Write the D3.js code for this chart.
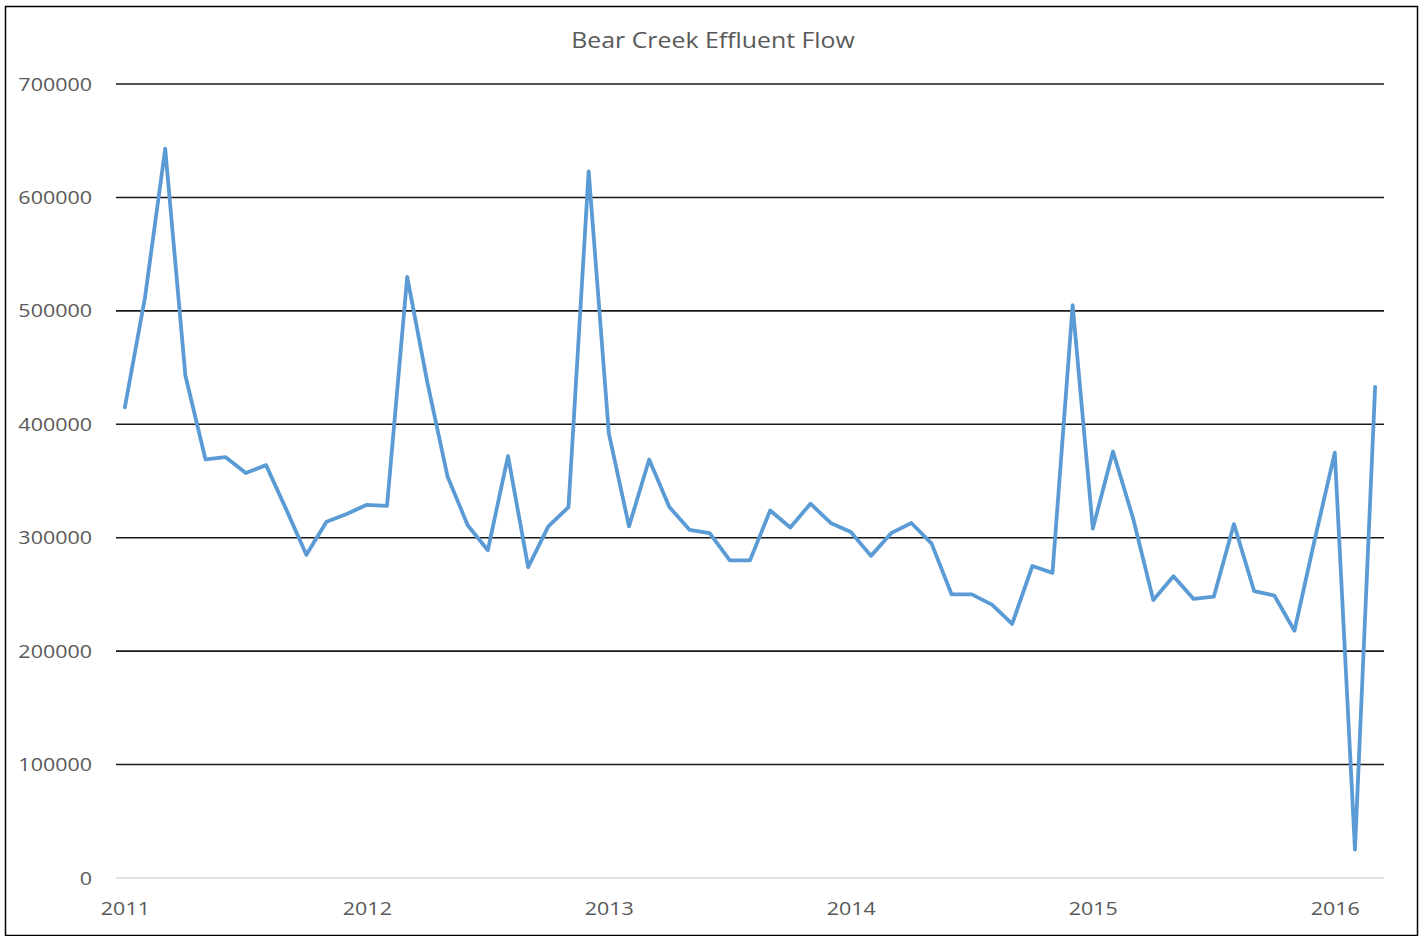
<!DOCTYPE html>
<html>
<head>
<meta charset="utf-8">
<title>Bear Creek Effluent Flow</title>
<script src="https://cdn.jsdelivr.net/npm/d3@7"></script>
<style>
  html, body { margin: 0; padding: 0; background: #fff; }
  svg { display: block; }
  text { font-family: "Open Sans", "Noto Sans", sans-serif; fill: #595959; }
</style>
</head>
<body>
<svg id="chart" width="1424" height="936"></svg>
<script>
// Monthly effluent flow, January 2011 through March 2016
const months = d3.range(0, 63).map(i => new Date(2011, i, 1));
const flow = [
  415000, 512000, 643000, 443000, 369000, 371000, 357000, 364000, 325000, 285000, 314000, 321000,
  329000, 328000, 530000, 437000, 354000, 311000, 289000, 372000, 274000, 310000, 327000, 623000,
  392000, 310000, 369000, 327000, 307000, 304000, 280000, 280000, 324000, 309000, 330000, 313000,
  305000, 284000, 304000, 313000, 295000, 250000, 250000, 241000, 224000, 275000, 269000, 505000,
  308000, 376000, 317000, 245000, 266000, 246000, 248000, 312000, 253000, 249000, 218000, 298000,
  375000, 25000, 433000
];
const yTicks = [0, 100000, 200000, 300000, 400000, 500000, 600000, 700000];
const yearLabels = ["2011", "2012", "2013", "2014", "2015", "2016"];
const chartTitle = "Bear Creek Effluent Flow";

const svg = d3.select("#chart");
const W = 1424, H = 936;
const plot = { left: 116, right: 1384, top: 84, bottom: 878 };
const stretch = 1.13; // the labels use a slightly wide face

// chart frame
svg.append("rect")
  .attr("x", 5.5).attr("y", 6.5)
  .attr("width", W - 12).attr("height", H - 7)
  .attr("fill", "#fff").attr("stroke", "#000").attr("stroke-width", 1.5);

const data = months.map((d, i) => ({ idx: i, date: d, value: flow[i] }));

const x = d3.scaleLinear()
  .domain([-0.44, months.length - 1 + 0.44])
  .range([plot.left, plot.right]);

const y = d3.scaleLinear()
  .domain([0, 700000])
  .range([plot.bottom, plot.top]);

// horizontal gridlines
svg.append("g").selectAll("line")
  .data(yTicks)
  .join("line")
  .attr("x1", plot.left).attr("x2", plot.right)
  .attr("y1", d => y(d)).attr("y2", d => y(d))
  .attr("stroke", d => d === 0 ? "#d9d9d9" : "#1a1a1a")
  .attr("stroke-width", 1.6);

// y axis labels
const yAxis = d3.axisLeft(y).tickValues(yTicks).tickFormat(d3.format("d")).tickSize(0).tickPadding(24);
const gy = svg.append("g").attr("transform", `translate(${plot.left},0)`).call(yAxis);
gy.select(".domain").remove();
gy.selectAll("text")
  .attr("font-size", 19)
  .attr("font-family", "\"Open Sans\", sans-serif")
  .attr("fill", "#595959")
  .attr("x", 0)
  .attr("transform", `translate(-24,0) scale(${stretch},1)`);

// x axis year labels at each January
const yearIdx = yearLabels.map((_, k) => k * 12);
const xAxis = d3.axisBottom(x).tickValues(yearIdx)
  .tickFormat((d, k) => yearLabels[k]).tickSize(0).tickPadding(24);
const gx = svg.append("g").attr("transform", `translate(0,${plot.bottom})`).call(xAxis);
gx.select(".domain").remove();
gx.selectAll("text")
  .attr("font-size", 19)
  .attr("font-family", "\"Open Sans\", sans-serif")
  .attr("fill", "#595959")
  .attr("transform", `scale(${stretch},1)`);

// flow line
const line = d3.line()
  .x(d => x(d.idx))
  .y(d => y(d.value));

svg.append("path")
  .datum(data)
  .attr("fill", "none")
  .attr("stroke", "#5b9bd5")
  .attr("stroke-width", 3.8)
  .attr("stroke-linejoin", "round")
  .attr("stroke-linecap", "round")
  .attr("d", line);

// title
const titleX = (plot.left + plot.right) / 2 - 37;
svg.append("text")
  .attr("x", 0)
  .attr("y", 0)
  .attr("transform", `translate(${titleX},48) scale(${stretch},1)`)
  .attr("text-anchor", "middle")
  .attr("font-size", 22)
  .attr("fill", "#595959")
  .text(chartTitle);
</script>
</body>
</html>
